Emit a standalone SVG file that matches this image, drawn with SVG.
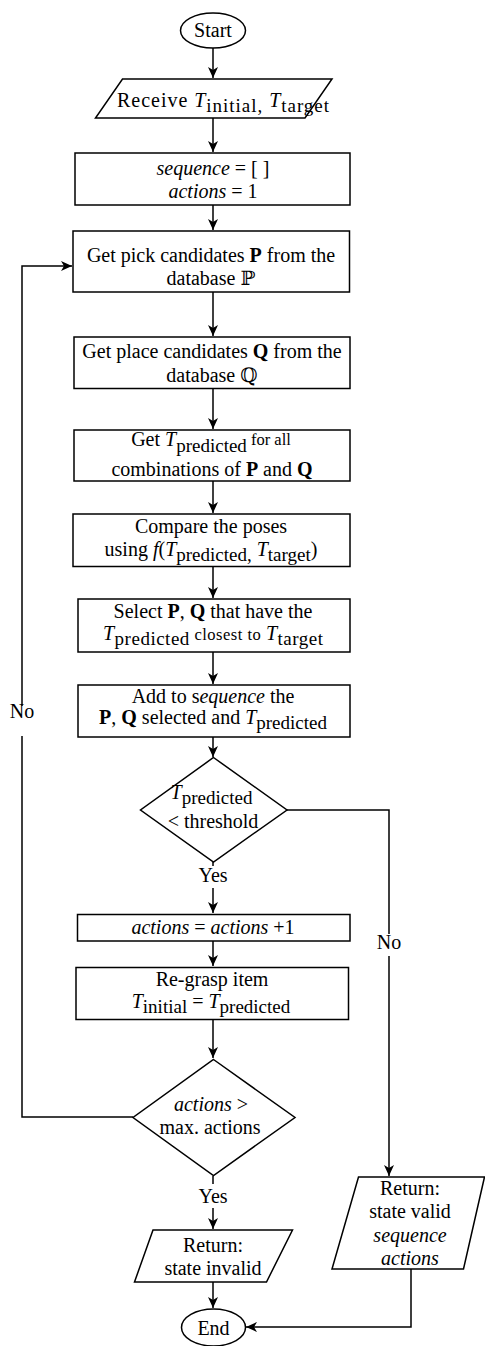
<svg xmlns="http://www.w3.org/2000/svg" width="485" height="1346" viewBox="0 0 485 1346">
<style>
.s{fill:#fff;stroke:#000;stroke-width:1.5}
.c{fill:none;stroke:#000;stroke-width:1.5}
text{font-family:'Liberation Serif','DejaVu Serif',serif;font-size:20px;fill:#000;text-anchor:middle}
.i{font-style:italic}
.b{font-weight:bold}
.sub{font-size:19px}
.sm{font-size:16.5px}
</style>
<defs>
<marker id="a" markerWidth="12" markerHeight="10" refX="11" refY="5" orient="auto" markerUnits="userSpaceOnUse">
<path d="M0,0 L11,5 L0,10 L3,5 z" fill="#000"/>
</marker>
</defs>
<rect width="485" height="1346" fill="#fff"/>
<g id="connectors">
<path class="c" d="M213,48 V78" marker-end="url(#a)"/>
<path class="c" d="M213,118 V152" marker-end="url(#a)"/>
<path class="c" d="M213,205 V230" marker-end="url(#a)"/>
<path class="c" d="M213,292 V336" marker-end="url(#a)"/>
<path class="c" d="M213,388 V429" marker-end="url(#a)"/>
<path class="c" d="M213,481 V513" marker-end="url(#a)"/>
<path class="c" d="M213,567 V598" marker-end="url(#a)"/>
<path class="c" d="M213,652 V684" marker-end="url(#a)"/>
<path class="c" d="M213,737 V757" marker-end="url(#a)"/>
<path class="c" d="M213,862 V866"/>
<path class="c" d="M213,888 V913" marker-end="url(#a)"/>
<path class="c" d="M213,941 V966" marker-end="url(#a)"/>
<path class="c" d="M213,1019 V1058" marker-end="url(#a)"/>
<path class="c" d="M213,1176 V1184"/>
<path class="c" d="M213,1208 V1229" marker-end="url(#a)"/>
<path class="c" d="M213,1282 V1308" marker-end="url(#a)"/>
<path class="c" d="M133,1117 H22 V736"/>
<path class="c" d="M22,706 V266 H72" marker-end="url(#a)"/>
<path class="c" d="M287,810 H389 V934"/>
<path class="c" d="M389,956 V1176" marker-end="url(#a)"/>
<path class="c" d="M411,1269 V1327 H246" marker-end="url(#a)"/>
<text x="22" y="718">No</text>
<text x="389" y="949">No</text>
<text x="213" y="882">Yes</text>
<text x="213" y="1203">Yes</text>
</g>
<g id="start">
<ellipse class="s" cx="213" cy="30.5" rx="32.5" ry="17.5"/>
<text x="213" y="36.5">Start</text>
</g>
<g id="receive">
<path class="s" d="M122.5,79 H332 L305,118 H95.5 Z"/>
<text x="223" y="107" textLength="212" lengthAdjust="spacing">Receive <tspan class="i">T</tspan><tspan class="sub" dy="5">initial,</tspan><tspan dy="-5"> </tspan><tspan class="i">T</tspan><tspan class="sub" dy="5">target</tspan></text>
</g>
<g id="init">
<rect class="s" x="75" y="153" width="275" height="52"/>
<text x="213" y="175"><tspan class="i">sequence</tspan> = [ ]</text>
<text x="213" y="198"><tspan class="i">actions</tspan> = 1</text>
</g>
<g id="pick">
<rect class="s" x="73" y="231" width="276.5" height="61"/>
<text x="211" y="262">Get pick candidates <tspan class="b">P</tspan> from the</text>
<text x="211" y="284.5">database ℙ</text>
</g>
<g id="place">
<rect class="s" x="74" y="337" width="276" height="51.5"/>
<text x="212" y="358">Get place candidates <tspan class="b">Q</tspan> from the</text>
<text x="212" y="382">database ℚ</text>
</g>
<g id="predict">
<rect class="s" x="74" y="430" width="276" height="51"/>
<text x="211" y="446">Get <tspan class="i">T</tspan><tspan class="sub" dy="6">predicted</tspan><tspan class="sm" dy="-7"> for all</tspan></text>
<text x="212" y="476">combinations of <tspan class="b">P</tspan> and <tspan class="b">Q</tspan></text>
</g>
<g id="compare">
<rect class="s" x="73" y="514" width="277" height="52.5"/>
<text x="211" y="533">Compare the poses</text>
<text x="211" y="556">using <tspan class="i">f</tspan>(<tspan class="i">T</tspan><tspan class="sub" dy="5">predicted,</tspan><tspan dy="-5"> </tspan><tspan class="i">T</tspan><tspan class="sub" dy="5">target</tspan><tspan dy="-5">)</tspan></text>
</g>
<g id="select">
<rect class="s" x="78" y="599" width="272" height="53"/>
<text x="213" y="618">Select <tspan class="b">P</tspan>, <tspan class="b">Q</tspan> that have the</text>
<text x="213" y="640" textLength="220" lengthAdjust="spacing"><tspan class="i">T</tspan><tspan class="sub" dy="5">predicted</tspan><tspan class="sm" dy="-5"> closest to </tspan><tspan class="i">T</tspan><tspan class="sub" dy="5">target</tspan></text>
</g>
<g id="add">
<rect class="s" x="78" y="685" width="272" height="52"/>
<text x="213" y="703">Add to s<tspan class="i">equence</tspan> the</text>
<text x="213" y="724"><tspan class="b">P</tspan>, <tspan class="b">Q</tspan> selected and <tspan class="i">T</tspan><tspan class="sub" dy="5">predicted</tspan></text>
</g>
<g id="threshold">
<path class="s" d="M213.5,757.5 L287,810 L213.5,862 L140.5,810 Z"/>
<text x="211.5" y="799"><tspan class="i">T</tspan><tspan class="sub" dy="5">predicted</tspan></text>
<text x="213" y="828">&lt; threshold</text>
</g>
<g id="increment">
<rect class="s" x="77.5" y="914.5" width="272.5" height="26.5"/>
<text x="213" y="934"><tspan class="i">actions</tspan> = <tspan class="i">actions</tspan> +1</text>
</g>
<g id="regrasp">
<rect class="s" x="76" y="967.5" width="272.5" height="52"/>
<text x="212" y="986">Re-grasp item</text>
<text x="211" y="1008"><tspan class="i">T</tspan><tspan class="sub" dy="5">initial</tspan><tspan dy="-5"> = </tspan><tspan class="i">T</tspan><tspan class="sub" dy="5">predicted</tspan></text>
</g>
<g id="maxactions">
<path class="s" d="M213.5,1059.5 L295,1117.5 L213.5,1175.5 L133,1117.5 Z"/>
<text x="211" y="1110.5"><tspan class="i">actions</tspan> &gt;</text>
<text x="210" y="1134">max. actions</text>
</g>
<g id="invalid">
<path class="s" d="M153,1230 H292.5 L266.5,1282 H134.5 Z"/>
<text x="213" y="1251.5">Return:</text>
<text x="213" y="1275">state invalid</text>
</g>
<g id="valid">
<path class="s" d="M358.5,1177 H484.5 L463.5,1269 H332 Z"/>
<text x="410" y="1195">Return:</text>
<text x="410" y="1218">state valid</text>
<text x="410" y="1241.5" class="i">sequence</text>
<text x="410" y="1265" class="i">actions</text>
</g>
<g id="end">
<ellipse class="s" cx="213.5" cy="1327.5" rx="32" ry="18.5"/>
<text x="213.5" y="1335">End</text>
</g>
</svg>
